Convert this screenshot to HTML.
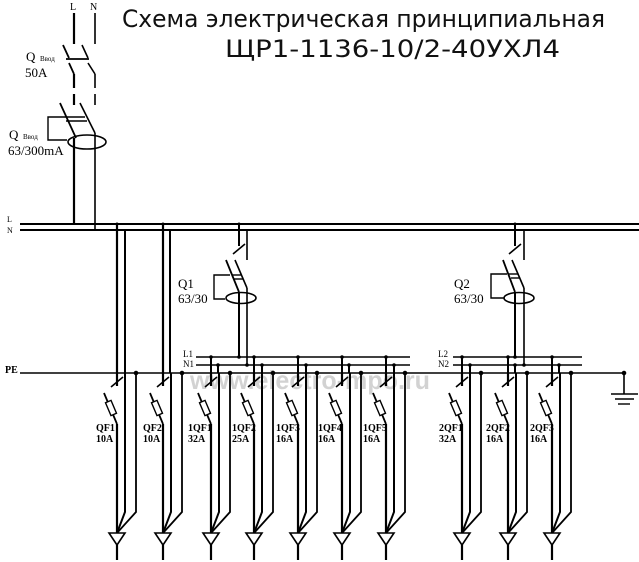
<!DOCTYPE html>
<html><head><meta charset="utf-8"><style>
html,body{margin:0;padding:0;background:#fff;}
svg{display:block;}
.t{font-family:"Liberation Serif",serif;}
.b{font-family:"Liberation Serif",serif;font-weight:bold;font-size:10px;}
</style></head><body>
<svg width="639" height="562" viewBox="0 0 639 562" xmlns="http://www.w3.org/2000/svg">
<defs>
<g id="col" stroke="#000" fill="none">
  <line x1="0" y1="373" x2="0" y2="386" stroke-width="2.2"/>
  <line x1="-6" y1="387" x2="6" y2="377" stroke-width="1.6"/>
  <line x1="-13" y1="393" x2="0" y2="424" stroke-width="1.8"/>
  <rect x="-3" y="-7" width="6" height="14" transform="translate(-6 408) rotate(-23)" fill="#fff" stroke-width="1.4"/>
  <line x1="0" y1="424" x2="0" y2="533" stroke-width="2.2"/>
  <polyline points="8,373 8,512 0,533" stroke-width="2"/>
  <polyline points="19,373 19,512 0,533" stroke-width="1.8"/>
  <polygon points="-8,533 8,533 0,545" stroke-width="1.6"/>
  <line x1="0" y1="545" x2="0" y2="560" stroke-width="2.2"/>
  <circle cx="19" cy="373" r="1.8" fill="#000"/>
</g>
</defs>

<text x="122" y="27" textLength="483" lengthAdjust="spacingAndGlyphs" font-family="'DejaVu Sans','Liberation Sans',sans-serif" font-size="24" fill="#111">Схема электрическая принципиальная</text>
<text x="225" y="57" textLength="335" lengthAdjust="spacingAndGlyphs" font-family="'DejaVu Sans','Liberation Sans',sans-serif" font-size="24" fill="#111">ЩР1-1136-10/2-40УХЛ4</text>

<text x="190" y="389" textLength="240" lengthAdjust="spacingAndGlyphs" font-family="'Liberation Sans',sans-serif" font-weight="bold" font-size="26" fill="#c4c4c4" opacity="0.75">www.electro-mpo.ru</text>

<g stroke="#000" fill="none">
<text x="70" y="10" class="t" font-size="10" fill="#000" stroke="none">L</text>
<text x="90" y="10" class="t" font-size="10" fill="#000" stroke="none">N</text>
<line x1="74" y1="13" x2="74" y2="44" stroke-width="2.2"/>
<line x1="95" y1="13" x2="95" y2="44" stroke-width="1.6"/>
<line x1="63" y1="45" x2="69" y2="58" stroke-width="1.8"/>
<line x1="82" y1="45" x2="88" y2="58" stroke-width="1.6"/>
<line x1="66" y1="59" x2="89" y2="59" stroke-width="1.8"/>
<line x1="69" y1="63" x2="74" y2="74" stroke-width="1.8"/>
<line x1="88" y1="63" x2="95" y2="74" stroke-width="1.6"/>
<line x1="74" y1="74" x2="74" y2="88" stroke-width="2.2"/>
<line x1="95" y1="74" x2="95" y2="88" stroke-width="1.6"/>
<line x1="74" y1="94" x2="74" y2="105" stroke-width="2.2"/>
<line x1="95" y1="94" x2="95" y2="105" stroke-width="1.6"/>
<line x1="60" y1="103" x2="76" y2="138" stroke-width="1.8"/>
<line x1="80" y1="103" x2="95" y2="133" stroke-width="1.6"/>
<line x1="64" y1="117" x2="85" y2="117" stroke-width="1.6"/>
<line x1="66" y1="121" x2="87" y2="121" stroke-width="1.6"/>
<polyline points="64,117 48,117 48,140 67,140" stroke-width="1.4"/>
<ellipse cx="87" cy="142" rx="19" ry="7" stroke-width="1.6"/>
<line x1="74" y1="138" x2="74" y2="224" stroke-width="2.2"/>
<line x1="95" y1="133" x2="95" y2="230" stroke-width="1.6"/>
<text x="26" y="61" class="t" font-size="13" fill="#000" stroke="none">Q</text>
<text x="40" y="61" class="t" font-size="7" fill="#000" stroke="none">Ввод</text>
<text x="25" y="77" class="t" font-size="13" fill="#000" stroke="none">50A</text>
<text x="9" y="139" class="t" font-size="13" fill="#000" stroke="none">Q</text>
<text x="23" y="139" class="t" font-size="7" fill="#000" stroke="none">Ввод</text>
<text x="8" y="155" class="t" font-size="13" fill="#000" stroke="none">63/300mA</text>

<line x1="20" y1="224" x2="639" y2="224" stroke-width="2"/>
<line x1="20" y1="230" x2="639" y2="230" stroke-width="2"/>
<text x="7" y="222" class="t" font-size="8" fill="#000" stroke="none">L</text>
<text x="7" y="233" class="t" font-size="8" fill="#000" stroke="none">N</text>
<line x1="20" y1="373" x2="624" y2="373" stroke-width="1.6"/>
<text x="5" y="373" class="b" font-size="8" fill="#000" stroke="none">PE</text>

<line x1="117" y1="224" x2="117" y2="373" stroke-width="2.2"/>
<line x1="125" y1="230" x2="125" y2="373" stroke-width="2"/>
<line x1="163" y1="224" x2="163" y2="373" stroke-width="2.2"/>
<line x1="170" y1="230" x2="170" y2="373" stroke-width="2"/>

<line x1="239" y1="224" x2="239" y2="246" stroke-width="2"/>
<line x1="247" y1="230" x2="247" y2="260" stroke-width="1.6"/>
<line x1="233" y1="254" x2="245" y2="244" stroke-width="1.6"/>
<line x1="226" y1="260" x2="239" y2="292" stroke-width="1.8"/>
<line x1="235" y1="260" x2="247" y2="288" stroke-width="1.6"/>
<line x1="232" y1="275" x2="241" y2="275" stroke-width="1.4"/>
<line x1="234" y1="279" x2="243" y2="279" stroke-width="1.4"/>
<polyline points="225,299 214,299 214,275 230,275" stroke-width="1.4"/>
<ellipse cx="241" cy="298" rx="15" ry="5.5" stroke-width="1.6"/>
<line x1="239" y1="292" x2="239" y2="357" stroke-width="2"/>
<line x1="247" y1="288" x2="247" y2="365" stroke-width="1.6"/>
<text x="178" y="288" class="t" font-size="13" fill="#000" stroke="none">Q1</text>
<text x="178" y="303" class="t" font-size="13" fill="#000" stroke="none">63/30</text>

<line x1="515" y1="224" x2="515" y2="246" stroke-width="2"/>
<line x1="524" y1="230" x2="524" y2="260" stroke-width="1.6"/>
<line x1="509" y1="254" x2="521" y2="244" stroke-width="1.6"/>
<line x1="503" y1="260" x2="515" y2="292" stroke-width="1.8"/>
<line x1="512" y1="260" x2="524" y2="288" stroke-width="1.6"/>
<line x1="509" y1="274" x2="518" y2="274" stroke-width="1.4"/>
<line x1="511" y1="278" x2="520" y2="278" stroke-width="1.4"/>
<polyline points="504,298 491,298 491,274 507,274" stroke-width="1.4"/>
<ellipse cx="519" cy="298" rx="15" ry="5.5" stroke-width="1.6"/>
<line x1="515" y1="292" x2="515" y2="357" stroke-width="2"/>
<line x1="524" y1="288" x2="524" y2="365" stroke-width="1.6"/>
<text x="454" y="288" class="t" font-size="13" fill="#000" stroke="none">Q2</text>
<text x="454" y="303" class="t" font-size="13" fill="#000" stroke="none">63/30</text>

<line x1="196" y1="357" x2="410" y2="357" stroke-width="1.6"/>
<line x1="196" y1="365" x2="410" y2="365" stroke-width="1.6"/>
<text x="183" y="357" class="t" font-size="9" fill="#000" stroke="none">L1</text>
<text x="183" y="367" class="t" font-size="9" fill="#000" stroke="none">N1</text>
<line x1="453" y1="357" x2="582" y2="357" stroke-width="1.6"/>
<line x1="453" y1="365" x2="582" y2="365" stroke-width="1.6"/>
<text x="438" y="357" class="t" font-size="9" fill="#000" stroke="none">L2</text>
<text x="438" y="367" class="t" font-size="9" fill="#000" stroke="none">N2</text>

<line x1="624" y1="373" x2="624" y2="394" stroke-width="1.6"/>
<line x1="611" y1="394" x2="638" y2="394" stroke-width="1.6"/>
<line x1="615" y1="399" x2="634" y2="399" stroke-width="1.4"/>
<line x1="618" y1="404" x2="630" y2="404" stroke-width="1.4"/>
<circle cx="624" cy="373" r="1.8" fill="#000"/>

<g stroke-width="2">
<line x1="211" y1="357" x2="211" y2="373"/><line x1="218" y1="365" x2="218" y2="373"/>
<line x1="254" y1="357" x2="254" y2="373"/><line x1="262" y1="365" x2="262" y2="373"/>
<line x1="298" y1="357" x2="298" y2="373"/><line x1="306" y1="365" x2="306" y2="373"/>
<line x1="342" y1="357" x2="342" y2="373"/><line x1="349" y1="365" x2="349" y2="373"/>
<line x1="386" y1="357" x2="386" y2="373"/><line x1="394" y1="365" x2="394" y2="373"/>
<line x1="462" y1="357" x2="462" y2="373"/><line x1="470" y1="365" x2="470" y2="373"/>
<line x1="508" y1="357" x2="508" y2="373"/><line x1="515" y1="365" x2="515" y2="373"/>
<line x1="552" y1="357" x2="552" y2="373"/><line x1="559" y1="365" x2="559" y2="373"/>
</g>
<g fill="#000" stroke="none">
<circle cx="211" cy="357" r="1.8"/><circle cx="218" cy="365" r="1.8"/>
<circle cx="254" cy="357" r="1.8"/><circle cx="262" cy="365" r="1.8"/>
<circle cx="298" cy="357" r="1.8"/><circle cx="306" cy="365" r="1.8"/>
<circle cx="342" cy="357" r="1.8"/><circle cx="349" cy="365" r="1.8"/>
<circle cx="386" cy="357" r="1.8"/><circle cx="394" cy="365" r="1.8"/>
<circle cx="462" cy="357" r="1.8"/><circle cx="470" cy="365" r="1.8"/>
<circle cx="508" cy="357" r="1.8"/><circle cx="515" cy="365" r="1.8"/>
<circle cx="552" cy="357" r="1.8"/><circle cx="559" cy="365" r="1.8"/>
<circle cx="239" cy="357" r="1.8"/><circle cx="247" cy="365" r="1.8"/>
<circle cx="515" cy="357" r="1.8"/><circle cx="524" cy="365" r="1.8"/>
<circle cx="117" cy="224" r="1.5"/><circle cx="163" cy="224" r="1.5"/>
<circle cx="239" cy="224" r="1.5"/><circle cx="515" cy="224" r="1.5"/>
</g>
</g>

<use href="#col" x="117"/>
<use href="#col" x="163"/>
<use href="#col" x="211"/>
<use href="#col" x="254"/>
<use href="#col" x="298"/>
<use href="#col" x="342"/>
<use href="#col" x="386"/>
<use href="#col" x="462"/>
<use href="#col" x="508"/>
<use href="#col" x="552"/>

<g class="b" fill="#000">
<text x="96" y="431">QF1</text><text x="96" y="442">10A</text>
<text x="143" y="431">QF2</text><text x="143" y="442">10A</text>
<text x="188" y="431">1QF1</text><text x="188" y="442">32A</text>
<text x="232" y="431">1QF2</text><text x="232" y="442">25A</text>
<text x="276" y="431">1QF3</text><text x="276" y="442">16A</text>
<text x="318" y="431">1QF4</text><text x="318" y="442">16A</text>
<text x="363" y="431">1QF5</text><text x="363" y="442">16A</text>
<text x="439" y="431">2QF1</text><text x="439" y="442">32A</text>
<text x="486" y="431">2QF2</text><text x="486" y="442">16A</text>
<text x="530" y="431">2QF3</text><text x="530" y="442">16A</text>
</g>
</svg>
</body></html>
